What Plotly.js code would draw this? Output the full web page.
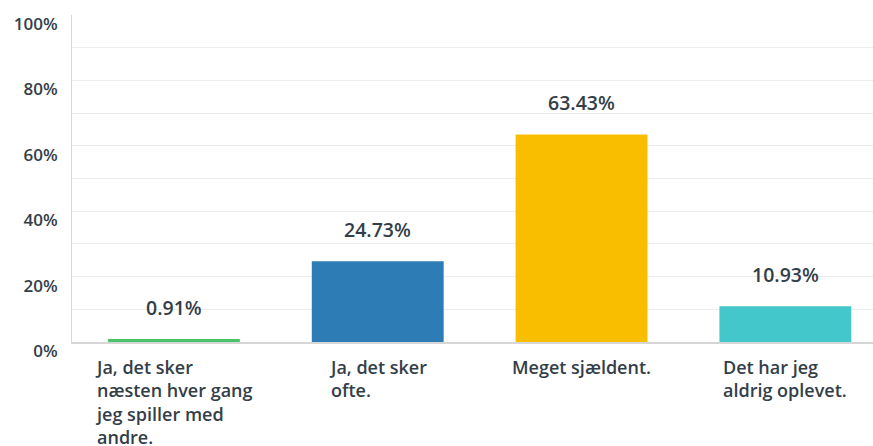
<!DOCTYPE html>
<html>
<head>
<meta charset="utf-8">
<script src="https://cdn.plot.ly/plotly-3.0.1.min.js"></script>
<style>html,body{margin:0;padding:0;background:#fff;}#chart{width:873px;height:446px;}</style>
</head>
<body>
<div id="chart"></div>
<script>
const categories = ["Ja, det sker næsten hver gang jeg spiller med andre.", "Ja, det sker ofte.", "Meget sjældent.", "Det har jeg aldrig oplevet."];
const tickLabels = ["Ja, det sker<br>næsten hver gang<br>jeg spiller med<br>andre.", "Ja, det sker<br>ofte.", "Meget sjældent.", "Det har jeg<br>aldrig oplevet."];
const values = [0.91, 24.73, 63.43, 10.93];
const valueLabels = ["0.91%", "24.73%", "63.43%", "10.93%"];
const barColors = ["#4bc26c", "#2e7cb6", "#f9be00", "#44c7cb"];

const textColor = "#333e48";
const fontFam = "'Open Sans', sans-serif";

const trace = {
  type: "bar",
  x: categories,
  y: values,
  marker: {color: barColors, line: {width: 0}},
  width: 0.647,
  hoverinfo: "none"
};

const annotations = [];
categories.forEach((c, i) => {
  annotations.push({
    x: c, y: values[i], xref: "x", yref: "y",
    text: valueLabels[i], showarrow: false,
    yanchor: "middle", yshift: 32,
    font: {family: fontFam, size: 19.5, color: textColor, weight: 600}
  });
  annotations.push({
    x: c, y: 0, xref: "x", yref: "y",
    text: tickLabels[i], showarrow: false, align: "left",
    xanchor: "center", yanchor: "top", yshift: -11,
    font: {family: fontFam, size: 18, color: textColor, weight: 600}
  });
});

const layout = {
  width: 873, height: 446,
  margin: {l: 72, r: 0, t: 15, b: 104, pad: 0},
  paper_bgcolor: "#ffffff", plot_bgcolor: "#ffffff",
  showlegend: false,
  xaxis: {
    type: "category",
    range: [-0.5, 3.43],
    showticklabels: false, ticks: "",
    showgrid: false, zeroline: false,
    showline: true, linecolor: "#d6d6d6", linewidth: 1.5,
    fixedrange: true
  },
  yaxis: {
    range: [0, 100],
    dtick: 20, tick0: 0,
    ticksuffix: "%",
    ticks: "",
    showline: true, linecolor: "#d6d6d6", linewidth: 1,
    showgrid: true, gridcolor: "#ececec", gridwidth: 1,
    minor: {dtick: 10, showgrid: true, gridcolor: "#ececec", gridwidth: 1},
    zeroline: false,
    ticklabelstandoff: 10,
    ticklabelshift: 9,
    tickfont: {family: fontFam, size: 17, color: textColor, weight: 600},
    fixedrange: true
  },
  annotations: annotations
};

Plotly.newPlot("chart", [trace], layout, {displayModeBar: false, staticPlot: true});
</script>
</body>
</html>
